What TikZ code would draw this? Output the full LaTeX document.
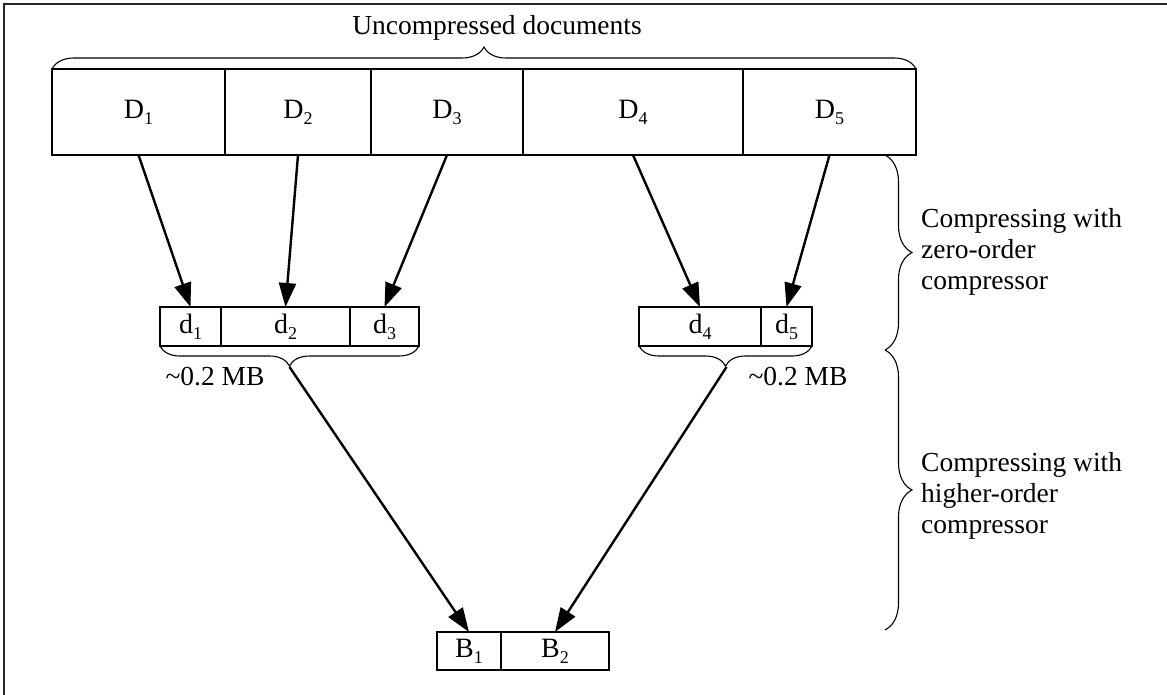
\documentclass[tikz,border=0pt]{standalone}
\usepackage{fontspec}
\setmainfont{Liberation Serif}
\usetikzlibrary{arrows.meta,decorations.pathreplacing}
\newcommand\ssub[1]{\raisebox{-6pt}{\fontsize{18}{18}\selectfont #1}}
\begin{document}
\begin{tikzpicture}[x=1pt,y=-1pt,
  cell/.style={draw=black, line width=1.6pt, rectangle, inner sep=0pt, outer sep=0pt,
     font=\fontsize{28}{32}\selectfont},
  arr/.style={line width=2.4pt, -{Triangle[length=24pt,width=17pt]}},
  bracedec/.style={draw=black, line width=1.1pt, decorate, decoration={brace, amplitude=#1}},
  txt/.style={font=\fontsize{27.5}{31}\selectfont, inner sep=0pt},
  frameline/.style={line width=2.2pt, black!85}]
\useasboundingbox (0,0) rectangle (1167,695);
\draw[frameline] (4,695) -- (4,4) -- (1167,4);

% top row
\node[cell, minimum width=173, minimum height=86] (D1) at (138.5,112) {D\ssub{1}};
\node[cell, minimum width=146, minimum height=86] (D2) at (298,112) {D\ssub{2}};
\node[cell, minimum width=152, minimum height=86] (D3) at (447,112) {D\ssub{3}};
\node[cell, minimum width=220, minimum height=86] (D4) at (633,112) {D\ssub{4}};
\node[cell, minimum width=173, minimum height=86] (D5) at (829.5,112) {D\ssub{5}};

\draw[bracedec=22] (D1.north west) -- (D5.north east);
\node[txt, anchor=base] (unc) at (497,35) {Uncompressed documents};

% middle row
\node[cell, minimum width=61, minimum height=39] (d1) at (190.5,326.5) {d\ssub{1}};
\node[cell, minimum width=129, minimum height=39] (d2) at (285.5,326.5) {d\ssub{2}};
\node[cell, minimum width=69, minimum height=39] (d3) at (384.5,326.5) {d\ssub{3}};
\node[cell, minimum width=122, minimum height=39] (d4) at (700,326.5) {d\ssub{4}};
\node[cell, minimum width=51, minimum height=39] (d5) at (786.5,326.5) {d\ssub{5}};

\draw[arr] (D1.south) -- (d1.north);
\draw[arr] (D2.south) -- (d2.north);
\draw[arr] (D3.south) -- (d3.north);
\draw[arr] (D4.south) -- (d4.north);
\draw[arr] (D5.south) -- (d5.north);

\draw[bracedec=20] (d3.south east) -- (d1.south west);
\draw[bracedec=20] (d5.south east) -- (d4.south west);
\coordinate (t1) at (289.5,367);
\coordinate (t2) at (726.5,367);
\node[txt] (mb1) at (215,377) {\textasciitilde 0.2 MB};
\node[txt] (mb2) at (798,377) {\textasciitilde 0.2 MB};

% bottom row
\node[cell, minimum width=64, minimum height=38] (B1) at (469,651) {B\ssub{1}};
\node[cell, minimum width=108, minimum height=38] (B2) at (555,651) {B\ssub{2}};
\draw[arr] (t1) -- (B1.north);
\draw[arr] (t2) -- (B2.north);

% right braces
\coordinate (r0) at (885,155);
\coordinate (r1) at (885,350);
\coordinate (r2) at (885,630);
\draw[bracedec=27] (r0) -- (r1);
\draw[bracedec=27] (r1) -- (r2);
\node[txt, anchor=west, align=left] (z0) at (921,252) {Compressing with\\zero-order\\compressor};
\node[txt, anchor=west, align=left] (z1) at (921,496) {Compressing with\\higher-order\\compressor};
\end{tikzpicture}
\end{document}
